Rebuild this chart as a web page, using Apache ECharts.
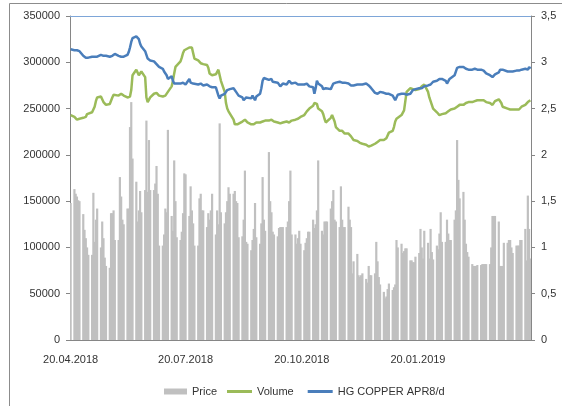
<!DOCTYPE html>
<html>
<head>
<meta charset="utf-8">
<title>HG COPPER</title>
<script src="https://cdn.jsdelivr.net/npm/echarts@6/dist/echarts.min.js"></script>
<style>
html,body{margin:0;padding:0;background:#fff;}
#main{width:562px;height:406px;}
</style>
</head>
<body>
<div id="main"></div>
<script>
// first and last calendar day on the axis
var startDate = '2018-04-20';
var endDate = '2019-04-19';
// dates that get a label + tick
var tickLabels = ['20.04.2018', '20.07.2018', '20.10.2018', '20.01.2019'];

// one value per weekday (Mon-Fri) starting 20.04.2018
var priceBars = [
	148000,
	163000,158000,155000,151000,150000, 136000,119000,110000,100000,92000,
	92000,159000,106000,130000,142000, 100000,128000,110000,89000,80000,
	78000,137000,137000,140000,108000, 108000,176000,155000,130000,125000,
	142000,142000,230000,257000,196000, 171000,128000,140000,161000,138000,
	162000,237000,160000,216000,162000, 162000,169000,188000,158000,102000,
	102000,114000,142000,138000,227000, 134000,118000,194000,150000,111000,
	108000,117000,137000,180000,179000, 134000,166000,140000,126000,102000,
	102000,153000,158000,140000,140000, 122000,137000,130000,140000,158000,
	114000,140000,125000,234000,138000, 126000,138000,150000,165000,158000,
	158000,161000,150000,148000,111000, 112000,130000,183000,106000,104000,
	97000,108000,120000,148000,111000, 104000,126000,176000,130000,118000,
	203000,150000,138000,117000,114000, 112000,121000,122000,122000,122000,
	122000,128000,150000,183000,114000, 114000,104000,110000,118000,104000,
	97000,105000,110000,117000,117000, 130000,121000,125000,140000,194000,
	118000,114000,128000,128000,128000, 142000,150000,162000,130000,128000,
	122000,166000,130000,122000,122000, 144000,130000,122000,72000,85000,
	93000,70000,68000,70000,72000, 66000,62000,80000,70000,70000,
	72000,106000,85000,68000,60000, 52000,45000,47000,55000,61000,
	54000,57000,60000,108000,100000, 104000,94000,96000,99000,99000,
	86000,86000,84000,84000,90000, 94000,120000,100000,88000,118000,
	105000,88000,120000,95000,87000, 102000,98000,115000,138000,106000,
	106000,130000,115000,108000,108000, 130000,140000,216000,173000,153000,
	160000,130000,104000,95000,90000, 82000,80000,80000,80000,81000,
	81000,82000,82000,82000,82000, 82000,100000,134000,134000,134000,
	128000,80000,80000,80000,105000, 105000,108000,108000,100000,94000,
	102000,102000,102000,108000,108000, 120000,86000,156000,120000,88000
];
var volumeLine = [
	243000,
	241000,240000,238000,237000,239000, 240000,242000,241000,244000,245000,
	246000,247000,252000,258000,262000, 263000,261000,257000,255000,254000,
	255000,256000,262000,265000,264000, 264000,265000,266000,265000,264000,
	262000,262000,263000,270000,286000, 292000,289000,286000,288000,290000,
	284000,262000,257000,259000,262000, 266000,268000,267000,265000,264000,
	263000,262000,264000,266000,268000, 274000,280000,288000,295000,297000,
	301000,305000,310000,313000,315000, 316000,317000,316000,310000,304000,
	302000,301000,299000,299000,298000, 297000,294000,288000,286000,286000,
	287000,288000,292000,293000,280000, 268000,256000,250000,247000,245000,
	238000,233000,232000,233000,234000, 236000,237000,238000,236000,235000,
	233000,232000,233000,234000,235000, 235000,235000,236000,236000,237000,
	237000,238000,238000,237000,236000, 235000,234000,234000,235000,235000,
	236000,235000,235000,236000,237000, 238000,239000,239000,240000,241000,
	243000,245000,247000,249000,250000, 253000,256000,257000,255000,250000,
	247000,244000,239000,235000,237000, 240000,243000,241000,236000,230000,
	226000,225000,226000,224000,223000, 223000,222000,220000,218000,216000,
	215000,214000,213000,212000,212000, 211000,210000,209000,209000,210000,
	212000,214000,214000,215000,216000, 216000,217000,218000,220000,224000,
	226000,230000,236000,239000,240000, 243000,243000,248000,258000,268000,
	272000,272000,271000,270000,270000, 271000,273000,274000,275000,276000,
	268000,262000,258000,254000,250000, 246000,244000,243000,243000,244000,
	245000,246000,247000,248000,249000, 250000,251000,252000,253000,254000,
	254000,255000,256000,256000,257000, 257000,258000,258000,258000,259000,
	259000,258000,259000,259000,257000, 256000,255000,254000,255000,258000,
	260000,261000,256000,252000,251000, 250000,250000,249000,249000,249000,
	249000,248000,249000,251000,252000, 254000,256000,257000,258000,259000
];
var copperLine = [
	3.14,
	3.13,3.12,3.13,3.11,3.12, 3.07,3.06,3.05,3.06,3.05,
	3.06,3.07,3.06,3.05,3.06, 3.08,3.09,3.07,3.06,3.07,
	3.06,3.08,3.07,3.06,3.09, 3.07,3.06,3.06,3.07,3.06,
	3.08,3.11,3.16,3.22,3.26, 3.28,3.27,3.25,3.20,3.17,
	3.12,3.08,3.04,3.03,3.02, 3.01,2.99,2.98,2.96,2.95,
	2.93,2.90,2.88,2.86,2.82, 2.85,2.80,2.77,2.76,2.77,
	2.77,2.76,2.78,2.77,2.76, 2.82,2.78,2.79,2.77,2.78,
	2.76,2.75,2.77,2.76,2.75, 2.76,2.75,2.74,2.75,2.73,
	2.73,2.72,2.64,2.61,2.64, 2.66,2.67,2.70,2.72,2.71,
	2.72,2.70,2.68,2.66,2.64, 2.62,2.59,2.60,2.62,2.61,
	2.61,2.64,2.62,2.59,2.63, 2.66,2.72,2.80,2.83,2.82,
	2.81,2.80,2.82,2.79,2.81, 2.78,2.76,2.74,2.76,2.77,
	2.76,2.78,2.80,2.78,2.77, 2.78,2.77,2.76,2.77,2.76,
	2.76,2.75,2.77,2.75,2.74, 2.73,2.66,2.72,2.80,2.77,
	2.74,2.71,2.70,2.72,2.70, 2.71,2.74,2.77,2.78,2.78,
	2.79,2.78,2.78,2.77,2.78, 2.77,2.76,2.75,2.74,2.75,
	2.76,2.75,2.76,2.77,2.76, 2.77,2.76,2.75,2.74,2.72,
	2.67,2.67,2.66,2.67,2.68, 2.67,2.67,2.66,2.66,2.66,
	2.64,2.62,2.59,2.62,2.65, 2.66,2.65,2.66,2.66,2.65,
	2.66,2.68,2.70,2.72,2.71, 2.72,2.73,2.72,2.73,2.74,
	2.75,2.75,2.76,2.78,2.79, 2.80,2.81,2.82,2.83,2.82,
	2.80,2.77,2.79,2.82,2.83, 2.86,2.90,2.94,2.94,2.95,
	2.95,2.94,2.93,2.93,2.92, 2.92,2.91,2.93,2.91,2.92,
	2.92,2.91,2.91,2.90,2.88, 2.86,2.85,2.84,2.85,2.87,
	2.89,2.92,2.93,2.92,2.91, 2.90,2.91,2.90,2.89,2.90,
	2.91,2.92,2.91,2.90,2.92, 2.93,2.94,2.92,2.95,2.93
];

var textColor = '#333333';
var axisColor = '#868686';
var fontName = 'Liberation Sans';

// calendar days as categories, weekends get no value
function pad(n){ return n < 10 ? '0' + n : '' + n; }
var days = [];
var isWeekday = [];
var cur = new Date(startDate + 'T00:00:00Z');
var last = new Date(endDate + 'T00:00:00Z');
while (cur <= last) {
	days.push(pad(cur.getUTCDate()) + '.' + pad(cur.getUTCMonth() + 1) + '.' + cur.getUTCFullYear());
	var wd = cur.getUTCDay();
	isWeekday.push(wd != 0 && wd != 6);
	cur.setUTCDate(cur.getUTCDate() + 1);
}
function spread(values){
	var out = [];
	var k = 0;
	for (var i = 0; i < days.length; i++) {
		if (isWeekday[i]) {
			out.push(k < values.length ? values[k] : null);
			k++;
		} else {
			out.push(null);
		}
	}
	return out;
}
function isTick(index, value){
	return tickLabels.indexOf(value) >= 0;
}

var myChart = echarts.init(document.getElementById('main'), null, {renderer: 'canvas'});
myChart.setOption({
	backgroundColor: '#ffffff',
	animation: false,
	textStyle: {fontFamily: fontName},
	grid: {left: 70, right: 31, top: 16, bottom: 66},
	graphic: [{
		type: 'rect',
		shape: {x: 9.5, y: 3.5, width: 600, height: 500},
		style: {fill: 'none', stroke: '#8c8c8c', lineWidth: 1},
		silent: true
	}],
	legend: [{
		data: ['Price'],
		left: 159, top: 381,
		icon: 'rect', itemWidth: 23, itemHeight: 6,
		textStyle: {color: textColor, fontSize: 11, fontFamily: fontName}
	}, {
		data: ['Volume', 'HG COPPER APR8/d'],
		left: 222, top: 381, itemGap: 14,
		icon: 'rect', itemWidth: 25, itemHeight: 3,
		textStyle: {color: textColor, fontSize: 11, fontFamily: fontName}
	}],
	xAxis: [{
		type: 'category',
		data: days,
		axisLine: {onZero: false, lineStyle: {color: axisColor}},
		axisTick: {interval: isTick, alignWithLabel: true, length: 4, lineStyle: {color: axisColor}},
		axisLabel: {interval: isTick, color: textColor, fontSize: 11, margin: 14, fontFamily: fontName},
		splitLine: {show: false}
	}, {
		// thin blue line along the top of the plot
		type: 'category',
		data: days,
		position: 'top',
		axisLine: {onZero: false, lineStyle: {color: '#7ea6d8', width: 1}},
		axisTick: {show: false},
		axisLabel: {show: false}
	}],
	yAxis: [{
		type: 'value',
		min: 0, max: 350000, interval: 50000,
		axisLine: {show: true, lineStyle: {color: axisColor}},
		axisTick: {show: true, length: 4, lineStyle: {color: axisColor}},
		axisLabel: {
			color: textColor, fontSize: 11, margin: 10, fontFamily: fontName,
			formatter: function(v){ return String(v); }
		},
		splitLine: {show: false}
	}, {
		type: 'value',
		min: 0, max: 3.5, interval: 0.5,
		axisLine: {show: true, lineStyle: {color: axisColor}},
		axisTick: {show: true, length: 4, lineStyle: {color: axisColor}},
		axisLabel: {
			color: textColor, fontSize: 11, margin: 10, fontFamily: fontName,
			formatter: function(v){ return String(v).replace('.', ','); }
		},
		splitLine: {show: false}
	}],
	series: [{
		name: 'Price',
		type: 'bar',
		yAxisIndex: 0,
		barWidth: 2.2,
		itemStyle: {color: '#c0c0c0'},
		data: spread(priceBars)
	}, {
		name: 'Volume',
		type: 'line',
		yAxisIndex: 0,
		symbol: 'none',
		connectNulls: true,
		itemStyle: {color: '#9bbb59'},
		lineStyle: {color: '#9bbb59', width: 2.5},
		data: spread(volumeLine)
	}, {
		name: 'HG COPPER APR8/d',
		type: 'line',
		yAxisIndex: 1,
		symbol: 'none',
		connectNulls: true,
		itemStyle: {color: '#4a7ebb'},
		lineStyle: {color: '#4a7ebb', width: 2.5},
		data: spread(copperLine)
	}]
});
</script>
</body>
</html>
